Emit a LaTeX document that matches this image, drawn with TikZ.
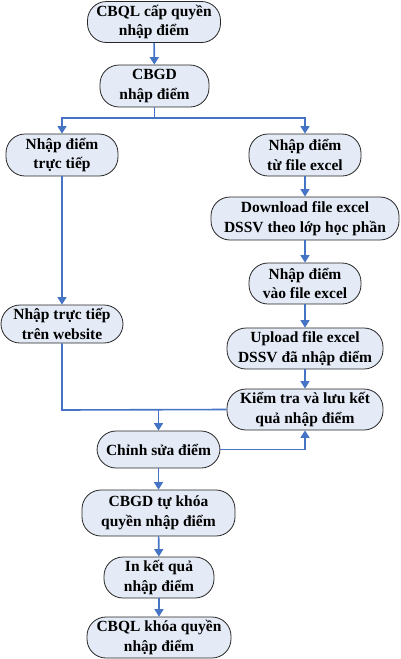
\documentclass[tikz,border=0pt]{standalone}
\usepackage{fontspec}
\setmainfont{Liberation Serif}
\usetikzlibrary{arrows.meta,positioning}
\definecolor{boxfill}{RGB}{228,235,246}
\definecolor{arrowblue}{RGB}{70,116,196}
\tikzset{
  box/.style={draw=black!85, line width=0.8pt, fill=boxfill, rounded corners=19pt,
    align=center, font=\fontsize{15.5}{19.5}\selectfont\bfseries, inner sep=0pt},
  conn/.style={draw=arrowblue, line width=1.6pt},
  arr/.style={conn, -{Triangle[width=9pt,length=7.5pt]}}
}
\begin{document}
\begin{tikzpicture}[x=1pt,y=-1pt]
\useasboundingbox (0,0) rectangle (400,659);
\node[box, minimum width=133pt, minimum height=41pt] (n1) at (154,22) {CBQL cấp quyền\\nhập điểm};
\node[box, minimum width=109pt, minimum height=42pt] (n2) at (154.5,86) {CBGD\\nhập điểm};
\node[box, minimum width=112pt, minimum height=42pt] (n3) at (62,155) {Nhập điểm\\trực tiếp};
\node[box, minimum width=112pt, minimum height=42pt] (n4) at (305,155) {Nhập điểm\\từ file excel};
\node[box, minimum width=188pt, minimum height=43pt] (n5) at (305,218.5) {Download file excel\\DSSV theo lớp học phần};
\node[box, minimum width=112pt, minimum height=41pt] (n6) at (305,283.5) {Nhập điểm\\vào file excel};
\node[box, minimum width=122pt, minimum height=38pt] (n7) at (62,324) {Nhập trực tiếp\\trên website};
\node[box, minimum width=156pt, minimum height=41pt] (n8) at (305,348.5) {Upload file excel\\DSSV đã nhập điểm};
\node[box, minimum width=156pt, minimum height=41pt] (n9) at (305,409.5) {Kiểm tra và lưu kết\\quả nhập điểm};
\node[box, minimum width=123pt, minimum height=37pt] (n10) at (158.5,449.5) {Chỉnh sửa điểm};
\node[box, minimum width=153pt, minimum height=46pt] (n11) at (158.5,513) {CBGD tự khóa\\quyền nhập điểm};
\node[box, minimum width=110pt, minimum height=41pt] (n12) at (159,577.5) {In kết quả\\nhập điểm};
\node[box, minimum width=144pt, minimum height=41pt] (n13) at (159,637.5) {CBQL khóa quyền\\nhập điểm};
\coordinate (split) at (154.5,118);
\coordinate (merge) at (158.5,410);
\coordinate (corner) at (62,410);
\draw[arr] (n1) -- (n2);
\draw[conn] (n2.south) -- (split);
\draw[arr] (split) -| (n3.north);
\draw[arr] (split) -| (n4.north);
\draw[arr] (n3) -- (n7);
\draw[arr] (n4) -- (n5);
\draw[arr] (n5) -- (n6);
\draw[arr] (n6) -- (n8);
\draw[arr] (n8) -- (n9);
\draw[conn] (n7.south) -- (corner) -- (n9.west);
\draw[arr] (merge) -- (n10.north);
\draw[arr] (n10.east) -| (n9.south);
\draw[arr] (n10) -- (n11);
\draw[arr] (n11) -- (n12);
\draw[arr] (n12) -- (n13);
\end{tikzpicture}
\end{document}
